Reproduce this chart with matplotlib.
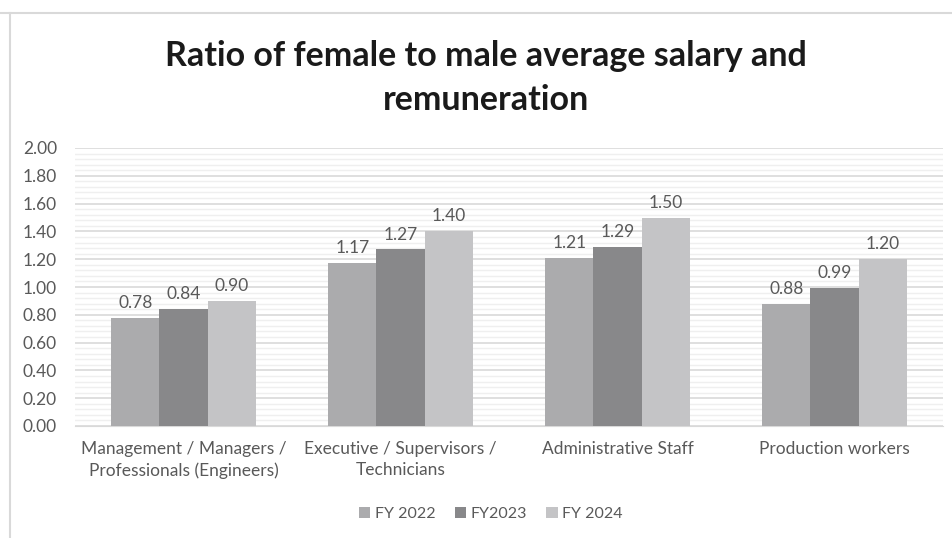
import matplotlib.pyplot as plt
import numpy as np
from matplotlib.lines import Line2D

plt.rcParams['font.family'] = ['Lato', 'DejaVu Sans']

categories = ['Management / Managers /\nProfessionals (Engineers)',
              'Executive / Supervisors /\nTechnicians',
              'Administrative Staff',
              'Production workers']
series = ['FY 2022', 'FY2023', 'FY 2024']
fy2022 = [0.78, 1.17, 1.21, 0.88]
fy2023 = [0.84, 1.27, 1.29, 0.99]
fy2024 = [0.90, 1.40, 1.50, 1.20]
colors = ['#ababad', '#88888a', '#c4c4c6']
text_col = '#595959'
fs = 12.5

fig = plt.figure(figsize=(9.52, 5.38), dpi=100)
ax = fig.add_axes([75 / 952, 1 - 426 / 538, 868 / 952, 278 / 538])

x = np.arange(len(categories))
w = 0.222
for i, (vals, lab, c) in enumerate(zip([fy2022, fy2023, fy2024], series, colors)):
    bars = ax.bar(x + (i - 1) * w, vals, w, color=c, label=lab, zorder=3)
    for b, v in zip(bars, vals):
        ax.text(b.get_x() + b.get_width() / 2, v + 0.05, f'{v:.2f}',
                ha='center', va='bottom', fontsize=fs, color=text_col)

ax.set_xlim(-0.5, 3.5)
ax.set_ylim(0, 2.0)
ax.set_yticks(np.arange(0, 2.01, 0.2))
ax.set_yticklabels([f'{t:.2f}' for t in np.arange(0, 2.01, 0.2)])
ax.set_yticks(np.arange(0, 2.001, 0.04), minor=True)
ax.grid(axis='y', which='major', color='#d9d9d9', lw=1.2, zorder=0)
ax.grid(axis='y', which='minor', color='#efefef', lw=1.0, zorder=0)
ax.set_xticks(x)
ax.set_xticklabels(categories, linespacing=1.4)
ax.tick_params(axis='both', which='both', length=0, labelsize=fs, colors=text_col)
ax.tick_params(axis='x', pad=11)
ax.tick_params(axis='y', pad=13)
for s in ['top', 'right', 'left']:
    ax.spines[s].set_visible(False)
ax.spines['bottom'].set_color('#d9d9d9')

fig.text(486 / 952, 1 - 78 / 538, 'Ratio of female to male average salary and\nremuneration',
         ha='center', va='center', fontsize=24.5, fontweight='bold', color='#1a1a1a',
         linespacing=1.45)

fig.legend(loc='center', bbox_to_anchor=(491 / 952, 1 - 514 / 538), ncol=3,
           frameon=False, fontsize=11.5, labelcolor=text_col, handlelength=0.7,
           handleheight=0.7, handletextpad=0.3, columnspacing=1.2)

fig.add_artist(Line2D([0, 1], [1 - 13 / 538, 1 - 13 / 538], transform=fig.transFigure,
                      color='#d9d9d9', lw=1.5))
fig.add_artist(Line2D([10 / 952, 10 / 952], [0, 1 - 13 / 538], transform=fig.transFigure,
                      color='#d9d9d9', lw=1.5))

fig.savefig('out.png', dpi=100, facecolor='white')
